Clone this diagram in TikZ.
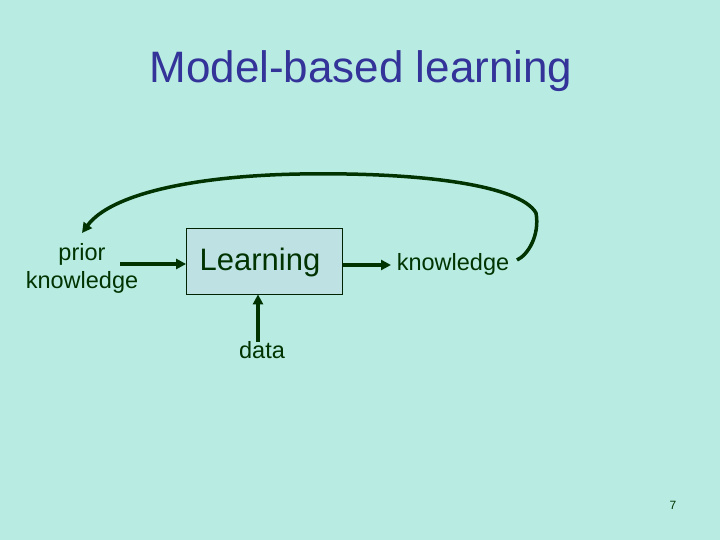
\documentclass[tikz,border=0pt]{standalone}
\usepackage{fontspec}
\setmainfont{Liberation Sans}
\usetikzlibrary{arrows.meta}
\definecolor{bg}{RGB}{184,236,226}
\definecolor{titleblue}{RGB}{51,51,153}
\definecolor{dkgreen}{RGB}{0,51,0}
\definecolor{boxfill}{RGB}{190,226,228}
\begin{document}
\begin{tikzpicture}[x=1pt,y=-1pt,
  lbl/.style={text=dkgreen,inner sep=0pt,anchor=base},
  conn/.style={draw=dkgreen,line width=3.5pt,-{Triangle[length=10pt,width=10pt]}},
  learnbox/.style={draw=dkgreen!70!black,line width=0.8pt,fill=boxfill,minimum width=156pt,minimum height=66pt,inner sep=0pt}]
\fill[bg] (0,0) rectangle (720,540);
\useasboundingbox (0,0) rectangle (720,540);
\node[text=titleblue,inner sep=0pt,anchor=base,font=\fontsize{44}{50}\selectfont] (title) at (361,83) {Model-based learning};
\node[learnbox] (box) at (264.5,261) {};
\node[lbl,font=\fontsize{31}{36}\selectfont] (learn) at (260,270) {Learning};
\node[lbl,font=\fontsize{23.5}{27.5}\selectfont,align=center] (prior) at (82,288) {prior\\knowledge};
\node[lbl,font=\fontsize{23.5}{28}\selectfont] (know) at (453,270) {knowledge};
\node[lbl,font=\fontsize{23.5}{28}\selectfont] (data) at (262,358) {data};
\node[lbl,font=\fontsize{12}{14}\selectfont] (pnum) at (673,509) {7};
\coordinate (pa) at (120,264);
\coordinate (ka) at (517,260);
\coordinate (ptip) at (82,233);
\draw[conn] (pa) -- (box.west |- pa);
\draw[conn] (box.east |- 0,265) -- (391,265);
\draw[conn] (258,342) -- (box.south -| 258,0);
\draw[conn] (ka) .. controls (528,255) and (540,235) .. (536,213)
  .. controls (520,185) and (420,172) .. (300,174)
  .. controls (190,176) and (110,195) .. (ptip);
\end{tikzpicture}
\end{document}
